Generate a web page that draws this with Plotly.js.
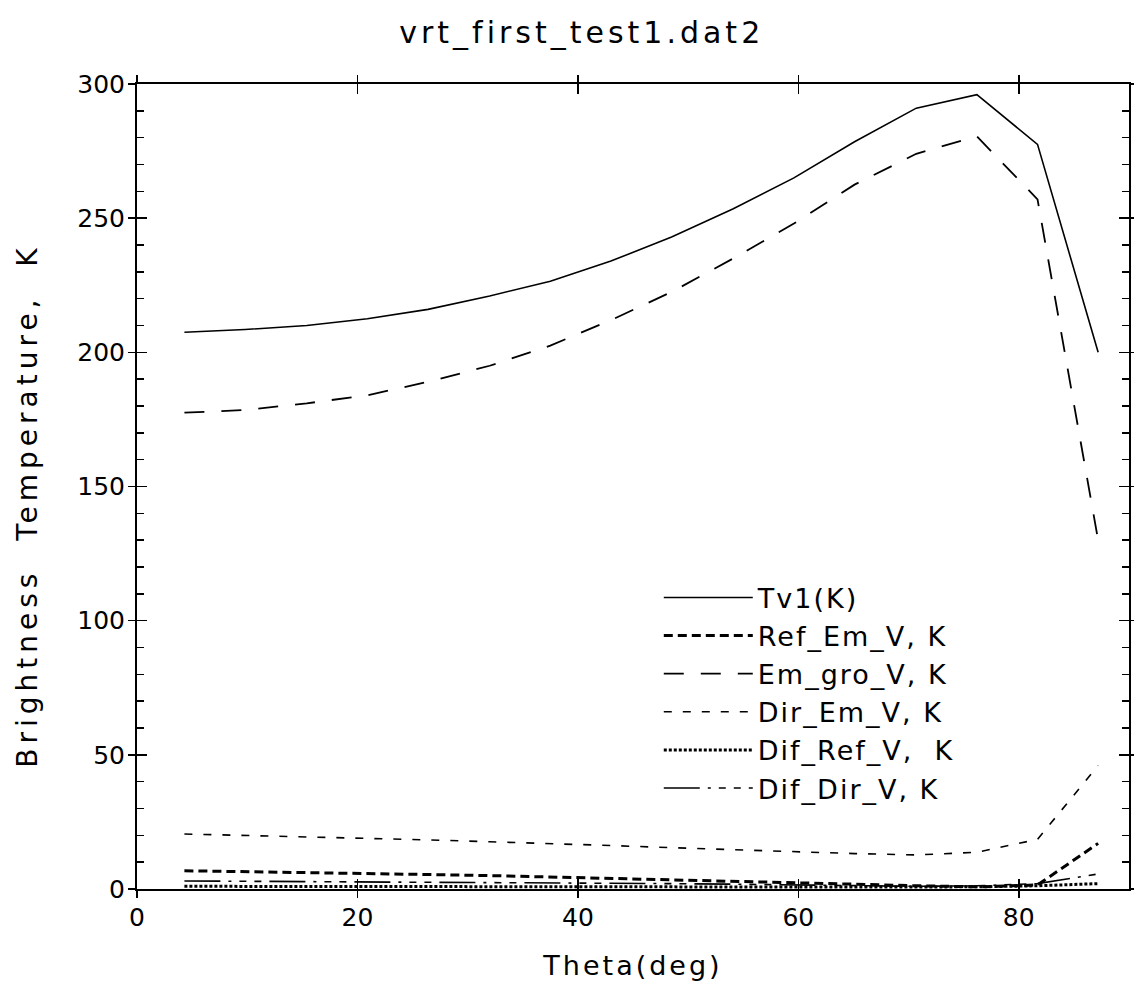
<!DOCTYPE html>
<html><head><meta charset="utf-8">
<script src="https://cdn.plot.ly/plotly-3.0.1.min.js"></script>
<style>
body{margin:0;background:#fff}
.gtitle{letter-spacing:4px}
.xtitle{letter-spacing:3px}
.annotation-text{letter-spacing:5px}
.legendtext{letter-spacing:2px}
</style></head><body><div id="chart" style="width:1134px;height:990px"></div>
<script>
// Data
const theta    = [4.3, 9.8, 15.4, 20.9, 26.4, 32.0, 37.5, 43.0, 48.5, 54.1, 59.6, 65.1, 70.7, 76.2, 81.7, 87.2];
const tv1      = [207.5, 208.5, 210, 212.5, 216, 221, 226.5, 234, 243, 253.5, 265, 278.5, 291, 296, 277.5, 200];
const refEmV   = [6.8, 6.5, 6.2, 5.8, 5.4, 5.0, 4.5, 4.0, 3.5, 3.0, 2.4, 1.8, 1.2, 0.8, 1.5, 17];
const emGroV   = [177.5, 178.5, 181, 184, 189, 195, 202.5, 212, 222.5, 235, 248, 262.5, 274, 280.5, 257, 130];
const dirEmV   = [20.5, 20, 19.5, 19, 18.3, 17.6, 17, 16.2, 15.4, 14.6, 13.8, 13.2, 12.7, 13.7, 18.5, 46];
const difRefV  = [1.0, 1.0, 1.0, 0.9, 0.9, 0.9, 0.8, 0.8, 0.8, 0.7, 0.7, 0.7, 0.7, 0.8, 1.2, 2.0];
const difDirV  = [3.0, 2.9, 2.8, 2.7, 2.6, 2.5, 2.3, 2.2, 2.0, 1.8, 1.6, 1.4, 1.0, 1.2, 2.0, 5.6];
const seriesNames = ['Tv1(K)', 'Ref_Em_V, K', 'Em_gro_V, K', 'Dir_Em_V, K', 'Dif_Ref_V,  K', 'Dif_Dir_V, K'];
const yTitle = 'Brightness  Temperature,  K';

const FONT = 'DejaVu Sans, Liberation Sans, sans-serif';
const seriesVals = [tv1, refEmV, emGroV, dirEmV, difRefV, difDirV];
const styles = [
  {dash: 'solid', width: 1.6},
  {dash: '9px,5px', width: 3},
  {dash: '20px,17px', width: 1.8},
  {dash: '8px,11px', width: 1.6},
  {dash: '3px,2px', width: 3},
  {dash: '36px,8px,3px,8px,7px,8px,7px,8px', width: 1.6}
];
const traces = seriesVals.map((v, i) => ({
  x: theta, y: v, type: 'scatter', mode: 'lines', name: seriesNames[i],
  line: {color: '#000', width: styles[i].width, dash: styles[i].dash},
  hoverinfo: 'skip'
}));
// carrier trace so the overlaid tick axes (outer half of the crossing ticks) get drawn
traces.push({x: theta, y: tv1, type: 'scatter', mode: 'lines', xaxis: 'x2', yaxis: 'y2',
  line: {color: 'rgba(0,0,0,0)', width: 0}, showlegend: false, hoverinfo: 'skip'});

const layout = {
  width: 1134, height: 990,
  margin: {l: 137, r: 5, t: 84, b: 101},
  paper_bgcolor: '#fff', plot_bgcolor: '#fff',
  font: {family: FONT, color: '#000'},
  title: {text: 'vrt_first_test1.dat2', font: {size: 30, family: FONT, color: '#000'},
          x: 0.513, xref: 'container', xanchor: 'center', y: 0.967, yref: 'container', yanchor: 'middle'},
  showlegend: true,
  legend: {x: 0.526, y: 0.392, xanchor: 'left', yanchor: 'top', bgcolor: 'rgba(0,0,0,0)',
           borderwidth: 0, itemwidth: 89, font: {size: 27, family: FONT, color: '#000'},
           traceorder: 'normal'},
  annotations: [{text: yTitle, textangle: -90, xref: 'paper', yref: 'paper', x: -0.11, y: 0.476,
                 xanchor: 'center', yanchor: 'middle', showarrow: false,
                 font: {size: 28, family: FONT, color: '#000'}}],
  xaxis: {range: [0, 90], tick0: 0, dtick: 20, ticks: 'inside', ticklen: 10, tickwidth: 1.5,
          tickcolor: '#000', mirror: 'allticks', showline: true, linewidth: 2, linecolor: '#000',
          showgrid: false, zeroline: false, tickfont: {size: 25, family: FONT, color: '#000'},
          ticklabelstandoff: 5,
          title: {text: 'Theta(deg)', font: {size: 27, family: FONT, color: '#000'}, standoff: 25}},
  xaxis2: {overlaying: 'x', anchor: 'y', range: [0, 90], tick0: 0, dtick: 20, ticks: 'outside',
           ticklen: 8, tickwidth: 1.5, tickcolor: '#000', mirror: 'allticks', showline: false,
           showticklabels: false, showgrid: false, zeroline: false},
  yaxis: {range: [0, 300], tick0: 0, dtick: 50, ticks: 'inside', ticklen: 10, tickwidth: 1.5,
          tickcolor: '#000', mirror: 'allticks', showline: true, linewidth: 2, linecolor: '#000',
          minor: {dtick: 10, ticks: 'inside', ticklen: 7, tickwidth: 1.5, tickcolor: '#000'},
          showgrid: false, zeroline: false, tickfont: {size: 25, family: FONT, color: '#000'},
          ticklabelstandoff: 5},
  yaxis2: {overlaying: 'y', anchor: 'x', range: [0, 300], tick0: 0, dtick: 50, ticks: 'outside',
           ticklen: 8, tickwidth: 1.5, tickcolor: '#000', mirror: 'allticks', showline: false,
           showticklabels: false, showgrid: false, zeroline: false}
};

Plotly.newPlot('chart', traces, layout, {displayModeBar: false, staticPlot: true});
</script></body></html>
